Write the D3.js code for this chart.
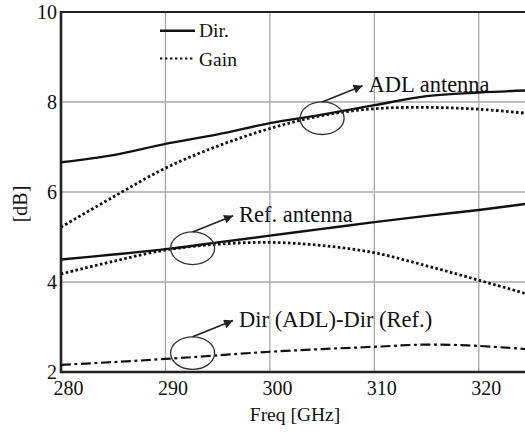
<!DOCTYPE html>
<html><head><meta charset="utf-8">
<script src="https://cdn.jsdelivr.net/npm/d3@7"></script>
<style>
html,body{margin:0;padding:0;background:#fff;overflow:hidden}
svg{display:block}
text{font-family:"Liberation Serif","Times New Roman",serif;fill:#111}
</style></head>
<body>
<svg id="c" width="525" height="433"></svg>
<script>
const freq = [280, 285, 290, 295, 300, 305, 310, 315, 320, 325];
const adlDir  = [6.66, 6.82, 7.07, 7.28, 7.53, 7.72, 7.93, 8.13, 8.21, 8.26];
const adlGain = [5.22, 5.89, 6.53, 7.02, 7.41, 7.70, 7.85, 7.88, 7.84, 7.74];
const refDir  = [4.50, 4.61, 4.73, 4.88, 5.03, 5.18, 5.33, 5.47, 5.60, 5.75];
const refGain = [4.18, 4.46, 4.71, 4.84, 4.88, 4.81, 4.65, 4.36, 4.04, 3.71];
const dirDiff = [2.16, 2.22, 2.29, 2.37, 2.45, 2.51, 2.56, 2.61, 2.58, 2.50];
const xTicks = [280, 290, 300, 310, 320];
const yTicks = [2, 4, 6, 8, 10];
const xLabel = "Freq [GHz]";
const yLabel = "[dB]";
const legendNames = ["Dir.", "Gain"];
const annotations = [
  {text: "ADL antenna", f: 305.0, v: 7.64},
  {text: "Ref. antenna", f: 292.6, v: 4.75},
  {text: "Dir (ADL)-Dir (Ref.)", f: 292.6, v: 2.42}
];

const svg = d3.select("#c");
const x = d3.scaleLinear().domain([280, 325]).range([61, 531]);
const y = d3.scaleLinear().domain([2, 10]).range([372, 12]);

// grid
svg.append("g").selectAll("line").data(xTicks.filter(t => t > 280)).join("line")
  .attr("x1", d => x(d)).attr("x2", d => x(d)).attr("y1", y(10)).attr("y2", y(2))
  .attr("stroke", "#a8a8a8").attr("stroke-width", 1.3);
svg.append("g").selectAll("line").data(yTicks.filter(t => t > 2 && t < 10)).join("line")
  .attr("x1", x(280)).attr("x2", 525).attr("y1", d => y(d)).attr("y2", d => y(d))
  .attr("stroke", "#a8a8a8").attr("stroke-width", 1.3);

// axes with labels only
const xa = svg.append("g").attr("transform", `translate(7,${y(2)})`)
  .call(d3.axisBottom(x).tickValues(xTicks).tickSize(0).tickPadding(9).tickFormat(d3.format("d")));
xa.select(".domain").remove();
xa.selectAll("text").attr("font-size", 20).attr("font-family", "Liberation Serif").attr("fill", "#111");
const ya = svg.append("g").attr("transform", `translate(61,0)`)
  .call(d3.axisLeft(y).tickValues(yTicks).tickSize(0).tickPadding(4).tickFormat(d3.format("d")));
ya.select(".domain").remove();
ya.selectAll("text").attr("font-size", 20).attr("font-family", "Liberation Serif").attr("fill", "#111");

// frame
svg.append("line").attr("x1", 61).attr("x2", 525).attr("y1", y(10)).attr("y2", y(10))
  .attr("stroke", "#222").attr("stroke-width", 2.2);
svg.append("line").attr("x1", 61).attr("x2", 525).attr("y1", y(2)).attr("y2", y(2))
  .attr("stroke", "#222").attr("stroke-width", 2.6);
svg.append("line").attr("x1", 61).attr("x2", 61).attr("y1", y(10) - 1).attr("y2", y(2) + 1.3)
  .attr("stroke", "#222").attr("stroke-width", 2.6);

// axis titles
svg.append("text").attr("x", 295).attr("y", 421).attr("text-anchor", "middle")
  .attr("font-size", 19.5).text(xLabel);
svg.append("text").attr("transform", "translate(27,204) rotate(-90)").attr("text-anchor", "middle")
  .attr("font-size", 20).text(yLabel);

// series
const line = d3.line().x((d, i) => x(freq[i])).y(d => y(d)).curve(d3.curveCatmullRom);
const series = [
  {v: adlDir, dash: null, w: 2.4},
  {v: adlGain, dash: "2.6,2.4", w: 2.8},
  {v: refDir, dash: null, w: 2.4},
  {v: refGain, dash: "2.6,2.4", w: 2.8},
  {v: dirDiff, dash: "10,3.5,3,3.5", w: 2.2}
];
series.forEach(s => {
  svg.append("path").datum(s.v).attr("d", line).attr("fill", "none")
    .attr("stroke", "#111").attr("stroke-width", s.w)
    .attr("stroke-dasharray", s.dash);
});

// legend
svg.append("line").attr("x1", 160).attr("x2", 195).attr("y1", 30.7).attr("y2", 30.7)
  .attr("stroke", "#111").attr("stroke-width", 2.4);
svg.append("text").attr("x", 199).attr("y", 36.5).attr("font-size", 19.5).text(legendNames[0]);
svg.append("line").attr("x1", 160).attr("x2", 195).attr("y1", 58.5).attr("y2", 58.5)
  .attr("stroke", "#111").attr("stroke-width", 2.2).attr("stroke-dasharray", "2.4,2.6");
svg.append("text").attr("x", 199).attr("y", 66).attr("font-size", 19.5).text(legendNames[1]);

// annotations
svg.append("defs").append("marker").attr("id", "ah").attr("viewBox", "0 0 10 10")
  .attr("refX", 10).attr("refY", 5).attr("markerWidth", 11).attr("markerHeight", 9)
  .attr("markerUnits", "userSpaceOnUse").attr("orient", "auto")
  .append("path").attr("d", "M0,0 L10,5 L0,10 z").attr("fill", "#222");
annotations.forEach(a => {
  const cx = x(a.f), cy = y(a.v);
  svg.append("ellipse").attr("cx", cx).attr("cy", cy).attr("rx", 22).attr("ry", 16.3)
    .attr("fill", "none").attr("stroke", "#333").attr("stroke-width", 1.3);
  svg.append("line").attr("x1", cx).attr("y1", cy - 16.3).attr("x2", cx + 40.5).attr("y2", cy - 32.5)
    .attr("stroke", "#222").attr("stroke-width", 1.6).attr("marker-end", "url(#ah)");
  svg.append("text").attr("x", cx + 46.5).attr("y", cy - 26.5).attr("font-size", 22.5).text(a.text);
});
</script>
</body></html>
